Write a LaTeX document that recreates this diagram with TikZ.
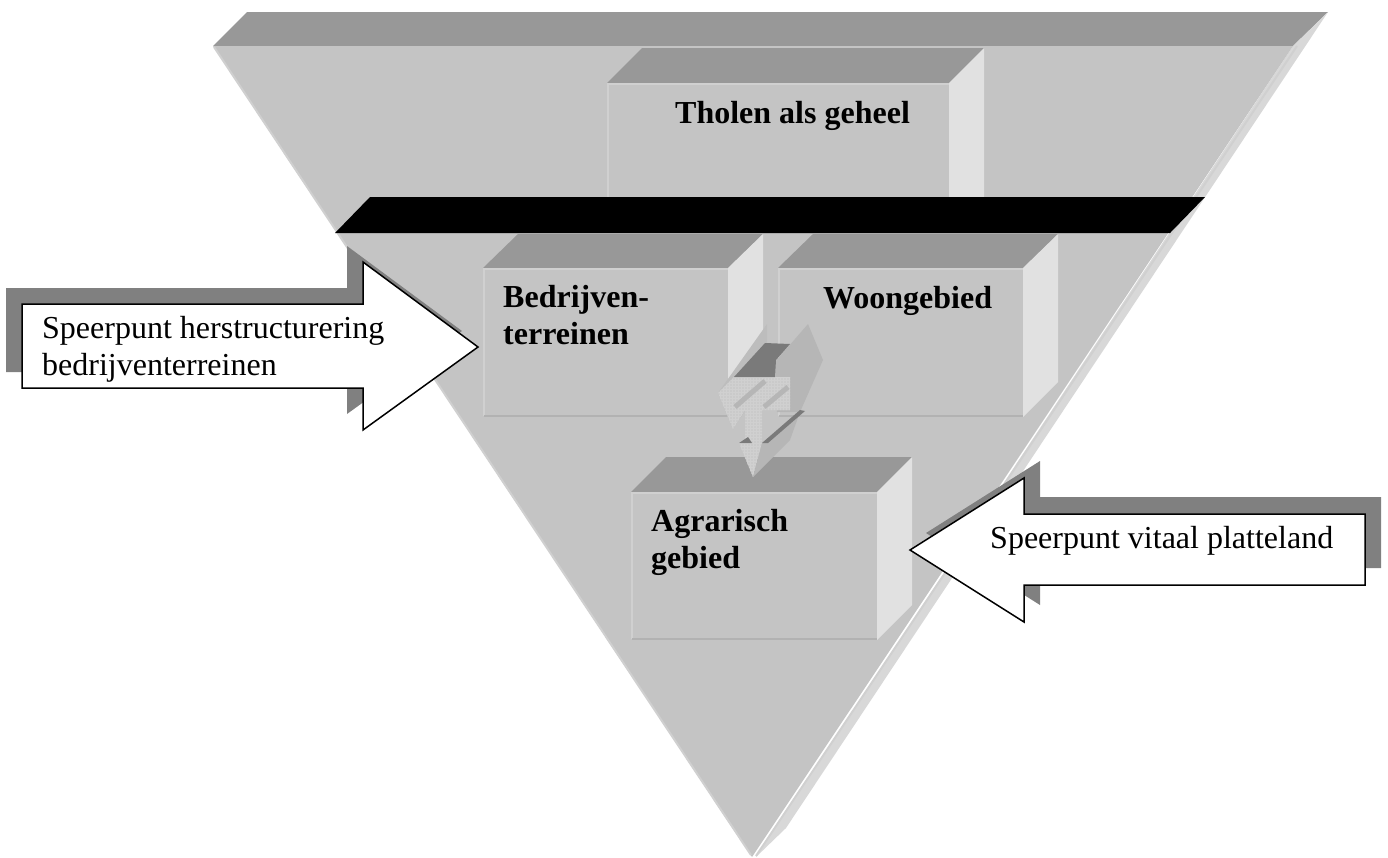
\documentclass[tikz,border=0pt]{standalone}
\usepackage{fontspec}
\setmainfont{Liberation Serif}
\usetikzlibrary{patterns}

\definecolor{faceg}{HTML}{C4C4C4}
\definecolor{topg}{HTML}{989898}
\definecolor{sideg}{HTML}{D8D8D8}
\definecolor{boxsideg}{HTML}{E1E1E1}
\definecolor{edgeg}{HTML}{D0D0D0}
\definecolor{lowg}{HTML}{B2B2B2}
\definecolor{shadowg}{HTML}{808080}
\definecolor{darkg}{HTML}{7A7A7A}
\definecolor{panelg}{HTML}{B6B6B6}

\tikzset{
  boxlabel/.style={inner sep=0pt, anchor=base west, align=left,
    font=\fontsize{32}{37}\selectfont\bfseries},
  calllabel/.style={inner sep=0pt, anchor=base west, align=left,
    font=\fontsize{32}{37}\selectfont},
  callout/.style={fill=white, draw=black, line width=1.5pt, line join=miter},
}

\begin{document}
\begin{tikzpicture}[x=1pt, y=-1pt]
    \useasboundingbox (0,0) rectangle (1388,857);

    % funnel
    \fill[topg] (213,46) -- (247,12) -- (1328,12) -- (1293,46) -- cycle;
    \fill[sideg] (1293,46) -- (1328,12) -- (786,828) -- (756,857) -- cycle;
    \fill[faceg] (213,46) -- (1293,46) -- (752,857) -- cycle;
    \draw[edgeg, line width=2pt] (214,47) -- (751,855);
    \draw[edgeg, line width=2pt] (1297,46) -- (756,856);

    % Tholen als geheel
    \fill[topg] (607,83) -- (642,48) -- (984,48) -- (949,83) -- cycle;
    \fill[boxsideg] (949,83) -- (984,48) -- (984,197) -- (949,197) -- cycle;
    \fill[faceg] (607,83) rectangle (949,197);
    \draw[edgeg, line width=1.5pt] (608,197) -- (608,84) -- (949,84);
    \node[boxlabel] (tholen) at (675,123) {Tholen als geheel};

    % balk
    \fill[black] (335,233) -- (370,197) -- (1205,197) -- (1170,233) -- cycle;

    % Bedrijventerreinen
    \fill[topg] (483,268) -- (518,234) -- (763,234) -- (728,268) -- cycle;
    \fill[boxsideg] (728,268) -- (763,234) -- (763,382) -- (728,417) -- cycle;
    \fill[faceg] (483,268) rectangle (728,417);
    \draw[edgeg, line width=1.5pt] (484,416) -- (484,269) -- (728,269);
    \draw[lowg, line width=1.5pt] (484,416) -- (728,416);
    \node[boxlabel] (bedrijven) at (503,344) {Bedrijven-\\terreinen};

    % Woongebied
    \fill[topg] (778,268) -- (813,234) -- (1058,234) -- (1023,268) -- cycle;
    \fill[boxsideg] (1023,268) -- (1058,234) -- (1058,382) -- (1023,417) -- cycle;
    \fill[faceg] (778,268) rectangle (1023,417);
    \draw[edgeg, line width=1.5pt] (779,416) -- (779,269) -- (1023,269);
    \draw[lowg, line width=1.5pt] (779,416) -- (1023,416);
    \node[boxlabel] (woon) at (823,308) {Woongebied};

    % Agrarisch gebied
    \fill[topg] (631,492) -- (666,457) -- (912,457) -- (877,492) -- cycle;
    \fill[boxsideg] (877,492) -- (912,457) -- (912,605) -- (877,640) -- cycle;
    \fill[faceg] (631,492) rectangle (877,640);
    \draw[edgeg, line width=1.5pt] (632,639) -- (632,493) -- (877,493);
    \draw[lowg, line width=1.5pt] (632,639) -- (877,639);
    \node[boxlabel] (agrarisch) at (651,568) {Agrarisch\\gebied};

    % 3D pijl naar beneden
    \fill[panelg!90!white] (718,393) -- (767,324) -- (767,377) -- (733,429) -- cycle;
    \fill[panelg] (775,362) -- (808,324) -- (823,360) -- (800,412) -- (777,412) -- cycle;
    \fill[faceg!90!white] (718,393) -- (734,377) -- (790,377) -- (790,410) -- (762,410)
        -- (762,443) -- (753,477) -- (739,443) -- (745,443) -- (745,410) -- (733,429) -- cycle;
    \fill[pattern=grid, pattern color=edgeg] (718,393) -- (734,377) -- (790,377) -- (790,410) -- (762,410)
        -- (762,443) -- (753,477) -- (739,443) -- (745,443) -- (745,410) -- (733,429) -- cycle;
    \draw[panelg, line width=5pt] (735,407) -- (765,381);
    \draw[panelg, line width=5pt] (764,407) -- (788,387);
    \fill[panelg] (762,443) -- (800,412) -- (790,440) -- (753,477) -- cycle;
    \fill[darkg] (762,443) -- (800,410) -- (805,411) -- (768,443) -- cycle;
    \fill[darkg] (739,443) -- (748,437) -- (752,443) -- cycle;
    \fill[darkg] (734,377) -- (765,343) -- (790,344) -- (776,360) -- (775,377) -- cycle;

    % speerpunt links
    \fill[shadowg] (6,288) -- (347,288) -- (347,246) -- (462,331) -- (347,414) -- (347,372) -- (6,372) -- cycle;
    \draw[callout] (22,304) -- (363,304) -- (363,262) -- (478,347) -- (363,430) -- (363,388) -- (22,388) -- cycle;
    \node[calllabel] (links) at (42,375) {Speerpunt herstructurering\\bedrijventerreinen};

    % speerpunt rechts
    \fill[shadowg] (1381,497) -- (1040,497) -- (1040,461) -- (926,533) -- (1040,605) -- (1040,568) -- (1381,568) -- cycle;
    \draw[callout] (1365,514) -- (1024,514) -- (1024,478) -- (910,550) -- (1024,622) -- (1024,585) -- (1365,585) -- cycle;
    \node[calllabel] (rechts) at (990,548) {Speerpunt vitaal platteland};
\end{tikzpicture}
\end{document}
